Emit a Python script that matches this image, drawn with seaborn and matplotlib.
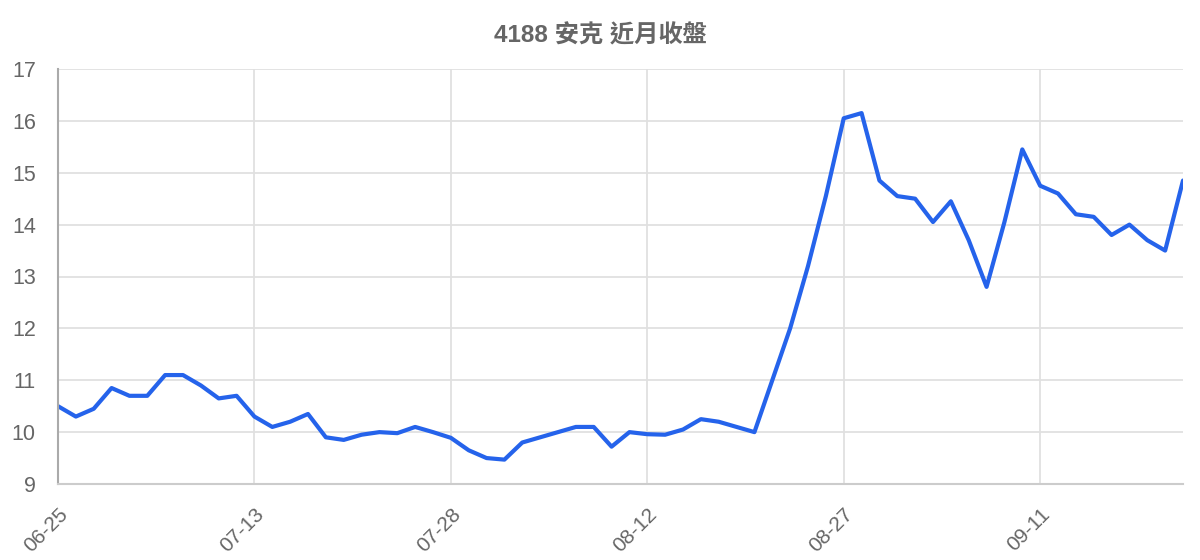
import matplotlib
matplotlib.use("Agg")
import matplotlib.pyplot as plt
import seaborn as sns
import pandas as pd

title = "4188 安克 近月收盤"
closes = [10.5, 10.3, 10.45, 10.85, 10.7, 10.7, 11.1, 11.1, 10.9, 10.65,
          10.7, 10.3, 10.1, 10.2, 10.35, 9.9, 9.85, 9.95, 10.0, 9.98,
          10.1, 10.0, 9.89, 9.65, 9.5, 9.47, 9.8, 9.9, 10.0, 10.1,
          10.1, 9.72, 10.0, 9.96, 9.95, 10.05, 10.25, 10.2, 10.1, 10.0,
          11.0, 12.0, 13.2, 14.55, 16.05, 16.15, 14.85, 14.55, 14.5, 14.05,
          14.45, 13.7, 12.8, 14.05, 15.45, 14.75, 14.6, 14.2, 14.15, 13.8,
          14.0, 13.7, 13.5, 14.85]
day_index = list(range(len(closes)))
tick_positions = [0, 11, 22, 33, 44, 55]
tick_labels = ["06-25", "07-13", "07-28", "08-12", "08-27", "09-11"]
y_ticks = [9, 10, 11, 12, 13, 14, 15, 16, 17]

df = pd.DataFrame({"idx": day_index, "close": closes})

sns.set_theme(style="white")
plt.rcParams["font.family"] = ["Liberation Sans", "Noto Sans CJK TC", "DejaVu Sans"]

fig = plt.figure(figsize=(12, 5.6), dpi=100)
ax = fig.add_axes([58/1200, 1-484/560, (1183-58)/1200, (484-69)/560])

sns.lineplot(data=df, x="idx", y="close", ax=ax, color="#2563eb", linewidth=3)

ax.set_xlim(0, len(closes) - 1)
ax.set_ylim(9, 17)
ax.set_xticks(tick_positions)
ax.set_xticklabels(tick_labels, rotation=45, ha="right", va="top",
                   rotation_mode="anchor", fontsize=15, color="#666666")
ax.set_yticks(y_ticks)
ax.set_yticklabels([str(v) for v in y_ticks], fontsize=15.5, color="#666666")
ax.set_xlabel("")
ax.set_ylabel("")

ax.grid(True, color="#e0e0e0", linewidth=1.3)
ax.set_axisbelow(True)
ax.tick_params(axis="x", length=14, width=1.3, color="#e0e0e0", pad=1)
ax.tick_params(axis="y", length=14, width=1.3, color="#e0e0e0", pad=2)

for side in ["top", "right"]:
    ax.spines[side].set_visible(False)
ax.spines["left"].set_color("#aaaaaa")
ax.spines["left"].set_linewidth(1.5)
ax.spines["bottom"].set_color("#cccccc")
ax.spines["bottom"].set_linewidth(1.5)

fig.text(0.5, 1-36/560, title, ha="center", va="center", fontsize=17.5,
         fontweight="bold", color="#666666",
         family=["Liberation Sans", "Noto Sans CJK TC", "DejaVu Sans"])

fig.savefig("out.png", dpi=100)
